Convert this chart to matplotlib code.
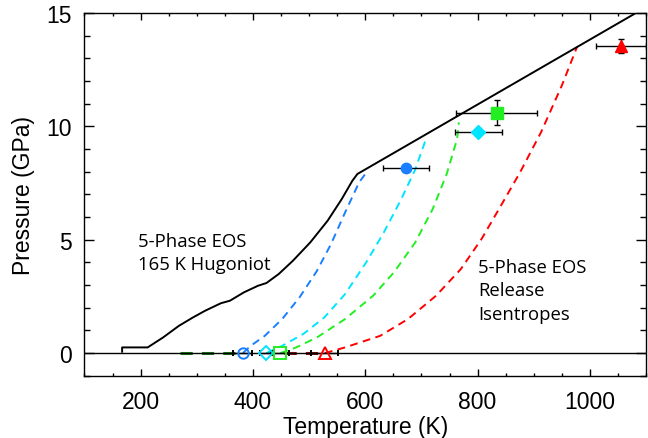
import matplotlib
matplotlib.use("Agg")
import matplotlib.pyplot as plt
from matplotlib.ticker import MultipleLocator

# ---- data ----
hug_T = [167, 167, 171, 212.5, 240, 268, 293, 315, 343, 359, 384, 409, 424, 446, 471, 502, 533, 558, 577, 586, 1084]
hug_P = [0.06, 0.25, 0.25, 0.25, 0.69, 1.2, 1.57, 1.87, 2.2, 2.31, 2.68, 2.97, 3.09, 3.49, 4.07, 4.88, 5.84, 6.79, 7.6, 7.9, 15.03]

blue_T = [382, 396, 421, 452, 483, 514, 539, 564, 589, 603]
blue_P = [0.0, 0.32, 0.76, 1.5, 2.46, 3.63, 4.81, 6.2, 7.53, 8.0]
cyan_T = [424, 452, 489.5, 527, 564, 601.6, 633, 664, 689, 707]
cyan_P = [0.0, 0.32, 0.84, 1.57, 2.6, 4.0, 5.32, 6.79, 8.1, 9.37]
green_T = [449, 477, 514, 564, 614, 651, 689, 720, 745, 763.5, 766.6]
green_P = [0.0, 0.25, 0.69, 1.5, 2.53, 3.56, 4.88, 6.35, 7.9, 9.44, 10.18]
red_T = [528, 564, 626.5, 676, 726, 770, 807, 838, 875.6, 913, 950, 977]
red_P = [0.0, 0.25, 0.76, 1.5, 2.53, 3.7, 5.03, 6.35, 7.97, 9.74, 11.8, 13.5]

# shocked states (filled markers)
shock_T = [672, 801, 834, 1055]
shock_P = [8.16, 9.73, 10.61, 13.56]
shock_Terr = [41, 42, 72, 45]
shock_Perr = [0.1, 0.05, 0.55, 0.31]
# released states (open markers at zero pressure)
rel_T = [382, 424, 449, 528]
rel_P = [0, 0, 0, 0]
rel_Terr = [17, 12, 16, 24]

colors = ["#1a7fff", "#00e5ff", "#22ee22", "#ff0000"]
markers = ["o", "D", "s", "^"]
msizes = [7.5, 7.0, 8.5, 8.5]

# ---- figure ----
fig = plt.figure(figsize=(6.48, 4.39), dpi=100)
ax = fig.add_axes([0.1304, 0.1418, 0.8666, 0.8263])

ax.axhline(0, color="black", lw=1.0, zorder=3)

# low-pressure tails along zero
ax.plot([270, 372], [0, 0], ls=(0, (4, 3)), color="#1e7a1e", lw=2.2, zorder=2)
ax.plot([455, 520], [0, 0], ls=(0, (4, 3)), color="#8a1010", lw=2.2, zorder=2)

dash = (0, (4, 2.8))
for T, P, c in [(blue_T, blue_P, colors[0]), (cyan_T, cyan_P, colors[1]),
                (green_T, green_P, colors[2]), (red_T, red_P, colors[3])]:
    ax.plot(T, P, ls=dash, color=c, lw=1.4, zorder=2)

ax.plot(hug_T, hug_P, color="black", lw=1.4, zorder=4)

for i in range(4):
    ax.errorbar(shock_T[i], shock_P[i], xerr=shock_Terr[i], yerr=shock_Perr[i],
                fmt=markers[i], color=colors[i], ms=msizes[i], mec=colors[i],
                ecolor="black", elinewidth=1.0, capsize=2.5, capthick=1.0, zorder=5)
    ax.errorbar(rel_T[i], rel_P[i], xerr=rel_Terr[i], fmt=markers[i], mfc="none",
                mec=colors[i], mew=1.4, ms=msizes[i], ecolor="black",
                elinewidth=1.0, capsize=2.0, capthick=1.2, zorder=5)

ax.set_xlim(100, 1100)
ax.set_ylim(-1, 15)
ax.xaxis.set_major_locator(MultipleLocator(200))
ax.xaxis.set_minor_locator(MultipleLocator(50))
ax.yaxis.set_major_locator(MultipleLocator(5))
ax.yaxis.set_minor_locator(MultipleLocator(1))
ax.tick_params(axis="both", which="both", direction="in", top=True, right=True,
               labelsize=16.5, width=1.0, colors="black")
ax.tick_params(axis="x", which="major", length=5, pad=10)
ax.tick_params(axis="x", which="minor", length=2.5)
ax.tick_params(axis="y", which="major", length=7.5, pad=9)
ax.tick_params(axis="y", which="minor", length=4)
for lab in ax.get_xticklabels() + ax.get_yticklabels():
    lab.set_family("Liberation Sans")
for s in ax.spines.values():
    s.set_linewidth(1.0)

ax.set_xlabel("Temperature (K)", fontsize=16.5, family="Liberation Sans", labelpad=2)
ax.set_ylabel("Pressure (GPa)", fontsize=16.5, family="Liberation Sans", labelpad=8)

ax.text(196, 5.35, "5-Phase EOS\n165 K Hugoniot", fontsize=13.3, family="Open Sans",
        va="top", ha="left", linespacing=1.4)
ax.text(801, 4.2, "5-Phase EOS\nRelease\nIsentropes", fontsize=13.3, family="Open Sans",
        va="top", ha="left", linespacing=1.4)

fig.savefig("out.png", dpi=100)
